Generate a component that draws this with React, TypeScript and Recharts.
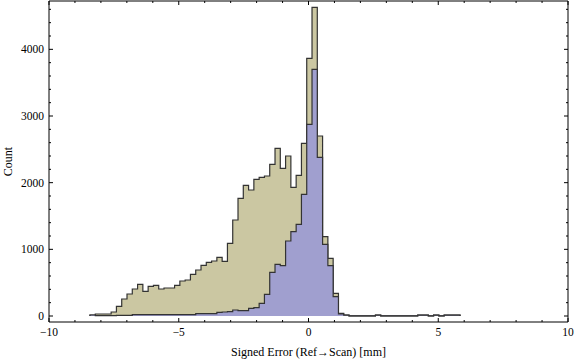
import React from 'react';
import { ComposedChart, Area, XAxis, YAxis } from 'recharts';

// ---- data ----
const BIN_START = -8.42;
const BIN_WIDTH = 0.2037;

const ALL_COUNTS = [
  15, 30, 30, 30, 60, 145, 255, 330, 405, 475,
  370, 445, 460, 405, 420, 420, 460, 525, 540, 625,
  690, 760, 805, 825, 880, 820, 1090, 1440, 1765, 1960,
  1890, 2050, 2080, 2100, 2275, 2515, 2215, 2400, 1930, 2110,
  2590, 3865, 4630, 2700, 1190, 865, 340, 40, 15, 3,
  3, 2, 2, 2, 12, 2, 2, 2, 2, 2,
  2, 2, 12, 12, 2, 12, 2, 12, 12, 12,
];

const SUBSET_COUNTS = [
  15, 5, 5, 5, 5, 10, 10, 10, 20, 20,
  20, 20, 20, 20, 20, 20, 20, 20, 20, 20,
  35, 35, 35, 35, 55, 60, 65, 90, 80, 80,
  115, 125, 190, 325, 655, 775, 755, 1125, 1265, 1375,
  1825, 2875, 3700, 2380, 1075, 755, 290, 30, 12, 3,
  3, 2, 2, 2, 12, 2, 2, 2, 2, 2,
  2, 2, 12, 12, 2, 12, 2, 12, 12, 12,
];

const X_TICKS = [-10, -9, -8, -7, -6, -5, -4, -3, -2, -1, 0, 1, 2, 3, 4, 5, 6, 7, 8, 9, 10];
const X_MAJOR = [-10, -5, 0, 5, 10];
const X_MAJOR_LABELS = ['\u221210', '\u22125', '0', '5', '10'];
const Y_TICKS = [0, 200, 400, 600, 800, 1000, 1200, 1400, 1600, 1800, 2000, 2200, 2400, 2600, 2800, 3000, 3200, 3400, 3600, 3800, 4000, 4200, 4400, 4600];
const Y_MAJOR = [0, 1000, 2000, 3000, 4000];
const Y_MAJOR_LABELS = ['0', '1000', '2000', '3000', '4000'];

const X_TITLE = 'Signed Error (Ref\u2192Scan) [mm]';
const Y_TITLE = 'Count';

// ---- table built from the arrays ----
const table = [
  { x: BIN_START, all: 0, sub: 0 },
  ...ALL_COUNTS.map((v, i) => ({ x: BIN_START + i * BIN_WIDTH, all: v, sub: SUBSET_COUNTS[i] })),
  { x: BIN_START + ALL_COUNTS.length * BIN_WIDTH, all: 0, sub: 0 },
];

const FONT = '"Liberation Serif", "Times New Roman", Times, serif';
const FS = 11.5;
const MAJ = 4;
const MIN = 2;

function BottomTick(props: any) {
  const { x, y, payload } = props;
  const k = X_MAJOR.indexOf(payload.value);
  const len = k >= 0 ? MAJ : MIN;
  return (
    <g>
      <line x1={x} x2={x} y1={y} y2={y - len} stroke="#000" strokeWidth={1} />
      {k >= 0 && (
        <text x={x} y={y + 14} textAnchor="middle" fontSize={FS} fontFamily={FONT} fill="#000">
          {X_MAJOR_LABELS[k]}
        </text>
      )}
    </g>
  );
}

function TopTick(props: any) {
  const { x, y, payload } = props;
  const len = X_MAJOR.indexOf(payload.value) >= 0 ? MAJ : MIN;
  return <line x1={x} x2={x} y1={y} y2={y + len} stroke="#000" strokeWidth={1} />;
}

function LeftTick(props: any) {
  const { x, y, payload } = props;
  const k = Y_MAJOR.indexOf(payload.value);
  const len = k >= 0 ? MAJ : MIN;
  return (
    <g>
      <line x1={x} x2={x + len} y1={y} y2={y} stroke="#000" strokeWidth={1} />
      {k >= 0 && (
        <text x={x - 5} y={y + 4} textAnchor="end" fontSize={FS} fontFamily={FONT} fill="#000">
          {Y_MAJOR_LABELS[k]}
        </text>
      )}
    </g>
  );
}

function RightTick(props: any) {
  const { x, y, payload } = props;
  const len = Y_MAJOR.indexOf(payload.value) >= 0 ? MAJ : MIN;
  return <line x1={x} x2={x - len} y1={y} y2={y} stroke="#000" strokeWidth={1} />;
}

function XTitle(props: any) {
  const vb = props.viewBox || { x: 49, y: 322, width: 519, height: 40 };
  return (
    <text x={vb.x + vb.width / 2} y={vb.y + 34} textAnchor="middle" fontSize={12} fontFamily={FONT} fill="#000">
      {X_TITLE}
    </text>
  );
}

function YTitle(props: any) {
  const vb = props.viewBox || { x: 0, y: 1, width: 49, height: 321 };
  const cx = 11.5;
  const cy = vb.y + vb.height / 2;
  return (
    <text x={cx} y={cy} transform={`rotate(-90 ${cx} ${cy})`} textAnchor="middle" fontSize={12} fontFamily={FONT} fill="#000">
      {Y_TITLE}
    </text>
  );
}

export default function App() {
  return (
    <div style={{ position: 'absolute', left: 0, top: 0, width: 576, height: 362, background: '#fff' }}>
      <ComposedChart width={576} height={362} data={table} margin={{ top: 0, right: 0, bottom: 0, left: 0 }}>
        <XAxis
          xAxisId="b"
          dataKey="x"
          type="number"
          domain={[-10, 10]}
          allowDataOverflow
          ticks={X_TICKS}
          interval={0}
          tick={BottomTick}
          tickLine={false}
          tickSize={0}
          tickMargin={0}
          height={40}
          axisLine={{ stroke: '#000', strokeWidth: 1 }}
          label={<XTitle />}
        />
        <XAxis
          xAxisId="t"
          orientation="top"
          dataKey="x"
          type="number"
          domain={[-10, 10]}
          allowDataOverflow
          ticks={X_TICKS}
          interval={0}
          tick={TopTick}
          tickLine={false}
          tickSize={0}
          tickMargin={0}
          height={1}
          axisLine={{ stroke: '#000', strokeWidth: 1 }}
        />
        <YAxis
          yAxisId="l"
          type="number"
          domain={[-90, 4725]}
          allowDataOverflow
          ticks={Y_TICKS}
          interval={0}
          tick={LeftTick}
          tickLine={false}
          tickSize={0}
          tickMargin={0}
          width={49}
          axisLine={{ stroke: '#000', strokeWidth: 1 }}
          label={<YTitle />}
        />
        <YAxis
          yAxisId="r"
          orientation="right"
          type="number"
          domain={[-90, 4725]}
          allowDataOverflow
          ticks={Y_TICKS}
          interval={0}
          tick={RightTick}
          tickLine={false}
          tickSize={0}
          tickMargin={0}
          width={8}
          axisLine={{ stroke: '#000', strokeWidth: 1 }}
        />
        <Area
          xAxisId="b"
          yAxisId="l"
          dataKey="all"
          type="stepAfter"
          baseValue={0}
          fill="#CBC7A2"
          fillOpacity={1}
          stroke="#333333"
          strokeWidth={1.2}
          dot={false}
          activeDot={false}
          isAnimationActive={false}
        />
        <Area
          xAxisId="b"
          yAxisId="l"
          dataKey="sub"
          type="stepAfter"
          baseValue={0}
          fill="#A09FCF"
          fillOpacity={1}
          stroke="#333333"
          strokeWidth={1.2}
          dot={false}
          activeDot={false}
          isAnimationActive={false}
        />
      </ComposedChart>
    </div>
  );
}
